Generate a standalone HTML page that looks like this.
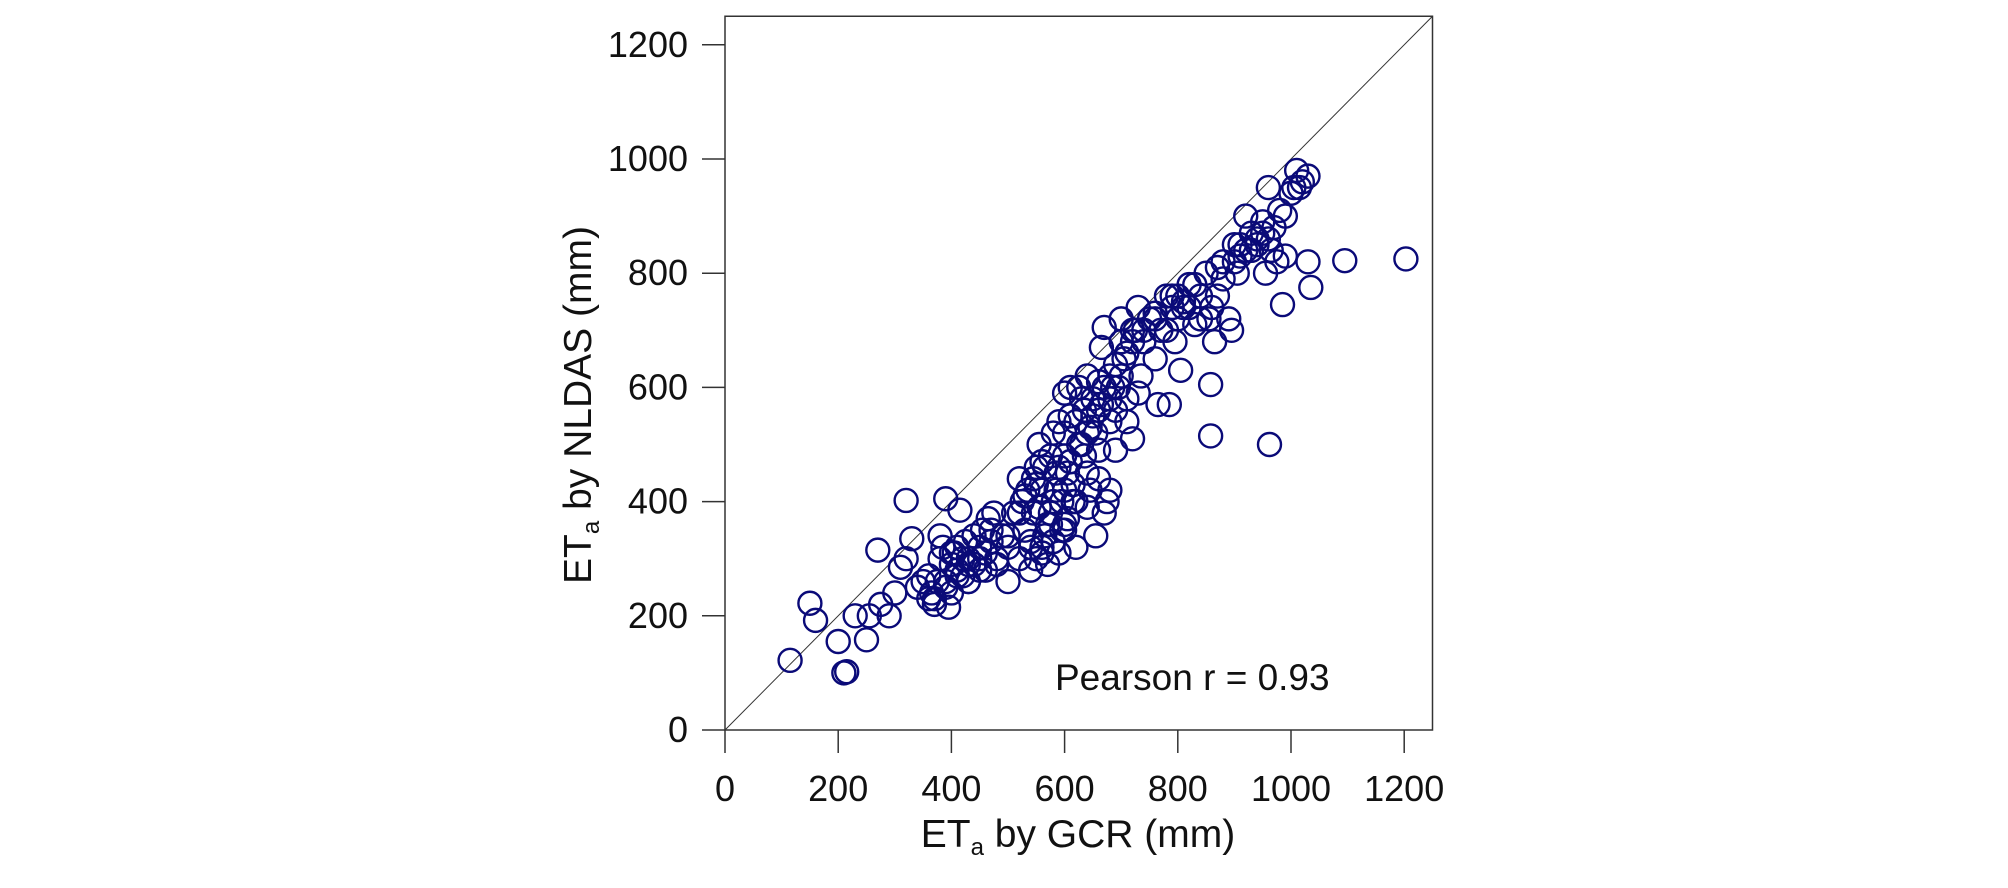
<!DOCTYPE html>
<html><head><meta charset="utf-8"><style>
html,body{margin:0;padding:0;background:#fff;}
svg{display:block;font-family:"Liberation Sans",Arial,sans-serif;}
</style></head><body>
<svg id="chart" width="2008" height="888" viewBox="0 0 2008 888">
<rect x="0" y="0" width="2008" height="888" fill="#fff"/>
<g id="axes"></g>
<g id="pts"></g>
<text x="1078" y="847" text-anchor="middle" font-size="39" fill="#111">ET<tspan font-size="24" dy="8">a</tspan><tspan dy="-8"> by GCR (mm)</tspan></text>
<text transform="translate(591,405) rotate(-90)" text-anchor="middle" font-size="39" fill="#111">ET<tspan font-size="24" dy="8">a</tspan><tspan dy="-8"> by NLDAS (mm)</tspan></text>
<text x="1055" y="690" font-size="37" fill="#111">Pearson r = 0.93</text>
</svg>
<script>
const xTicks=[0,200,400,600,800,1000,1200];
const yTicks=[0,200,400,600,800,1000,1200];
const gcr=[115,150,160,200,210,215,230,250,255,270,275,290,300,310,320,320,330,340,350,360,365,370,375,380,385,390,395,400,400,405,410,415,420,425,430,440,450,455,460,465,470,475,480,490,500,500,510,520,525,530,535,540,545,550,550,555,560,565,570,575,580,585,590,595,600,600,605,610,615,620,625,630,635,640,645,650,655,660,660,665,670,675,680,680,690,695,700,705,710,720,725,730,735,740,750,760,765,770,780,785,790,795,800,805,810,820,830,840,850,855,858,858,865,870,880,890,895,900,905,910,920,930,940,950,955,960,962,965,970,980,985,990,1000,1010,1020,1030,1030,1035,1095,1203,
530,545,560,570,580,590,600,610,620,630,640,650,660,670,680,690,700,710,720,740,760,780,800,820,840,860,880,900,920,940,960,975,450,470,430,410,390,380,420,440,460,500,520,540,560,580,600,620,640,660,670,680,600,575,640,610,690,730,710,590,
550,565,585,605,625,645,665,685,555,575,595,615,635,655,520,540,560,580,600,390,410,430,370,360,400,430,450,480,700,720,760,790,810,830,870,910,930,950,990,1005,1015];
const nldas=[122,222,192,155,100,102,200,158,200,315,220,200,240,285,300,402,335,250,260,230,240,220,260,300,320,405,215,240,290,310,280,385,300,330,260,340,300,350,280,370,330,380,290,340,260,320,380,440,400,350,420,280,380,300,460,500,420,340,290,380,520,450,310,400,590,480,370,550,430,320,600,500,560,450,420,580,340,610,490,670,705,400,620,540,490,600,720,650,580,510,700,740,620,680,720,650,570,700,760,570,740,680,720,630,750,780,710,760,800,720,605,515,680,760,790,720,700,850,800,830,900,870,850,890,800,950,500,840,880,910,745,830,940,980,960,970,820,775,822,825,
410,440,470,360,400,460,520,470,540,580,520,550,560,600,580,640,620,660,680,700,720,700,760,740,720,740,820,820,840,860,860,820,320,350,300,320,260,340,270,290,310,340,300,320,310,330,350,400,390,440,380,420,420,480,620,600,560,590,540,540,
430,460,420,450,500,530,570,600,390,360,350,400,480,520,380,330,320,330,360,250,270,290,230,270,310,260,280,300,680,700,730,760,740,780,810,850,840,870,900,950,950];
const X0=725,KX=0.566,Y0=730,KY=0.571;
const xs=v=>X0+v*KX, ys=v=>Y0-v*KY;
const NS="http://www.w3.org/2000/svg";
const ax=document.getElementById('axes'), pg=document.getElementById('pts');
function mk(t,a,p){const e=document.createElementNS(NS,t);for(const k in a)e.setAttribute(k,a[k]);p.appendChild(e);return e;}
let r=mk('rect',{x:xs(0),y:ys(1250),width:xs(1250)-xs(0),height:ys(0)-ys(1250),fill:'none',stroke:'#333','stroke-width':1.5},ax);


let d=mk('line',{x1:xs(0),y1:ys(0),x2:xs(1250),y2:ys(1250),stroke:'#333','stroke-width':1},ax);


xTicks.forEach(v=>{
 let l=mk('line',{x1:xs(v),y1:ys(0),x2:xs(v),y2:ys(0)+23,stroke:'#333','stroke-width':1.5},ax);
 
 
 let t=mk('text',{x:xs(v),y:801,'text-anchor':'middle','font-size':36,fill:'#111'},ax);t.textContent=v;
 
 
});
yTicks.forEach(v=>{
 let l=mk('line',{x1:xs(0)-23,y1:ys(v),x2:xs(0),y2:ys(v),stroke:'#333','stroke-width':1.5},ax);
 
 
 let t=mk('text',{x:688,y:ys(v)+12,'text-anchor':'end','font-size':36,fill:'#111'},ax);t.textContent=v;
 
 
});
gcr.forEach((g,i)=>{
 let c=mk('circle',{cx:xs(g),cy:ys(nldas[i]),r:11.5,fill:'none',stroke:'#0a0a78','stroke-width':2.4},pg);
 
 
});
</script>
</body></html>
